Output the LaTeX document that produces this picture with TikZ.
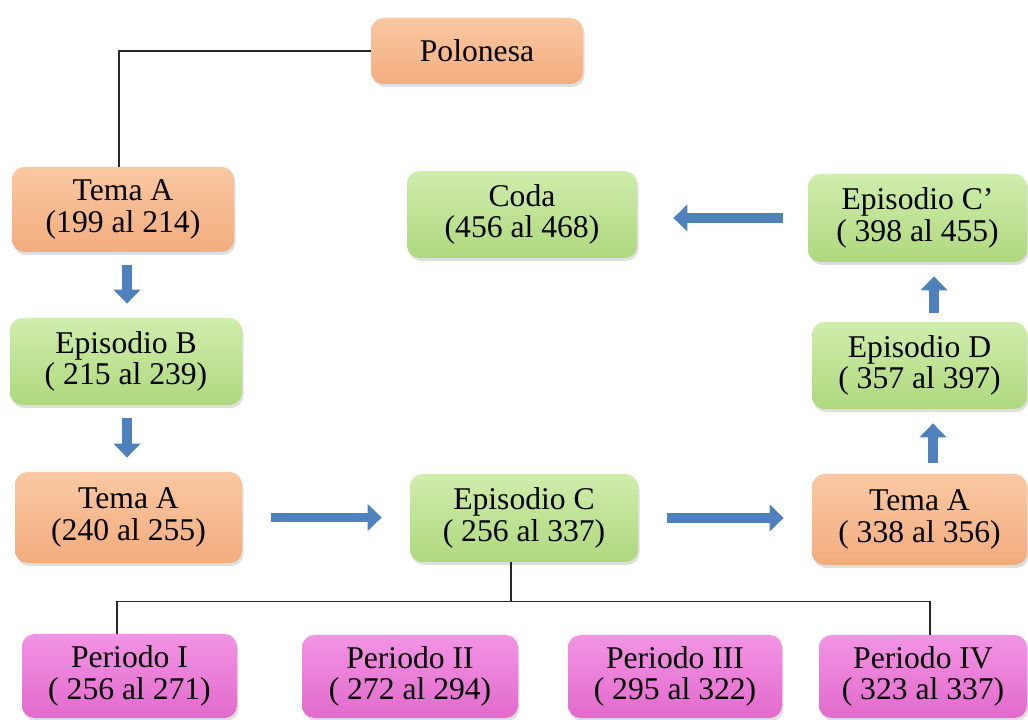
\documentclass[tikz,border=0pt]{standalone}
\usepackage{fontspec}
\setmainfont{Liberation Serif}
\usepackage{xcolor}
\usepackage{tikz}
\usetikzlibrary{positioning,calc,shadows,arrows.meta}
\definecolor{polOrange}{RGB}{243,172,126}
\definecolor{polOrangeLt}{RGB}{249,200,162}
\definecolor{polGreen}{RGB}{174,216,126}
\definecolor{polGreenLt}{RGB}{208,237,172}
\definecolor{polPink}{RGB}{226,106,204}
\definecolor{polPinkLt}{RGB}{242,148,228}
\definecolor{polBlue}{RGB}{79,129,189}
\definecolor{polLine}{RGB}{40,40,40}

\tikzset{
  secbox/.style={rounded corners=0.25cm, align=center, inner sep=2pt,
    font=\fontsize{18}{17.8}\selectfont,
    drop shadow={opacity=0.25, shadow xshift=0.03cm, shadow yshift=-0.06cm}},
  temabox/.style={secbox, top color=polOrangeLt, bottom color=polOrange},
  episbox/.style={secbox, top color=polGreenLt, bottom color=polGreen},
  perbox/.style={secbox, top color=polPinkLt, bottom color=polPink},
  vflow/.style={polBlue, line width=5.5pt, -{Triangle[width=15pt,length=8pt]},
    shorten <=0.26cm, shorten >=0.28cm},
  hflow/.style={polBlue, line width=5.5pt, -{Triangle[width=15pt,length=8pt]},
    shorten <=0.58cm, shorten >=0.56cm},
  tree/.style={polLine, line width=0.8pt}
}

\begin{document}
\begin{tikzpicture}
        % Page frame
        \useasboundingbox (0,0) rectangle (20.56,14.38);
        % Title box
        \node[temabox, minimum width=4.24cm, minimum height=1.32cm] (pol) at (9.54,13.36) {Polonesa};
        % Left column
        \node[temabox, minimum width=4.44cm, minimum height=1.70cm] (temaA1) at (2.46,10.19) {Tema A\\(199 al 214)};
        \node[episbox, minimum width=4.64cm, minimum height=1.74cm] (episB) at (2.52,7.15) {Episodio B\\( 215 al 239)};
        \node[temabox, minimum width=4.54cm, minimum height=1.82cm] (temaA2) at (2.57,4.03) {Tema A\\(240 al 255)};
        % Middle row
        \node[episbox, minimum width=4.56cm, minimum height=1.76cm] (episC) at (10.48,4.02) {Episodio C\\( 256 al 337)};
        \node[episbox, minimum width=4.60cm, minimum height=1.74cm] (coda) at (10.44,10.09) {Coda\\(456 al 468)};
        % Right column
        \node[temabox, minimum width=4.30cm, minimum height=1.82cm] (temaA3) at (18.39,3.99) {Tema A\\( 338 al 356)};
        \node[episbox, minimum width=4.30cm, minimum height=1.74cm] (episD) at (18.39,7.07) {Episodio D\\( 357 al 397)};
        \node[episbox, minimum width=4.38cm, minimum height=1.76cm] (episCp) at (18.35,10.02) {Episodio C'\\( 398 al 455)};
        % Periods of Episodio C
        \node[perbox, minimum width=4.30cm, minimum height=1.68cm] (per1) at (2.59,0.86) {Periodo I\\( 256 al 271)};
        \node[perbox, minimum width=4.32cm, minimum height=1.66cm] (per2) at (8.20,0.85) {Periodo II\\( 272 al 294)};
        \node[perbox, minimum width=4.28cm, minimum height=1.66cm] (per3) at (13.50,0.85) {Periodo III\\( 295 al 322)};
        \node[perbox, minimum width=4.16cm, minimum height=1.66cm] (per4) at (18.46,0.85) {Periodo IV\\( 323 al 337)};
        % Tree lines
        \draw[tree] (pol.west) -| ($(temaA1.north)+(-0.08,0)$);
        \coordinate (bus) at ($(episC.south)+(-0.26,-0.78)$);
        \draw[tree] ($(episC.south)+(-0.26,0)$) -- (bus);
        \draw[tree] ($(per1.north)+(-0.25,0)$) |- (bus) -| ($(per4.north)+(0.14,0)$);
        % Arrow start points
        \coordinate (fa) at ($(temaA1.south)+(0.08,0)$);
        \coordinate (fb) at ($(episB.south)+(0.02,0)$);
        \coordinate (fc) at ($(temaA3.north)+(0.27,0)$);
        \coordinate (fd) at ($(episD.north)+(0.29,0)$);
        % Blue flow arrows
        \draw[vflow] (fa) -- (fa |- episB.north);
        \draw[vflow] (fb) -- (fb |- temaA2.north);
        \draw[hflow] (temaA2.east) -- (temaA2.east -| episC.west);
        \draw[hflow] (episC.east) -- (episC.east -| temaA3.west);
        \draw[vflow, shorten <=0.22cm] (fc) -- (fc |- episD.south);
        \draw[vflow, shorten <=0.18cm] (fd) -- (fd |- episCp.south);
        \draw[hflow, shorten <=0.5cm, shorten >=0.72cm] (episCp.west) -- (episCp.west -| coda.east);
    \end{tikzpicture}
\end{document}
